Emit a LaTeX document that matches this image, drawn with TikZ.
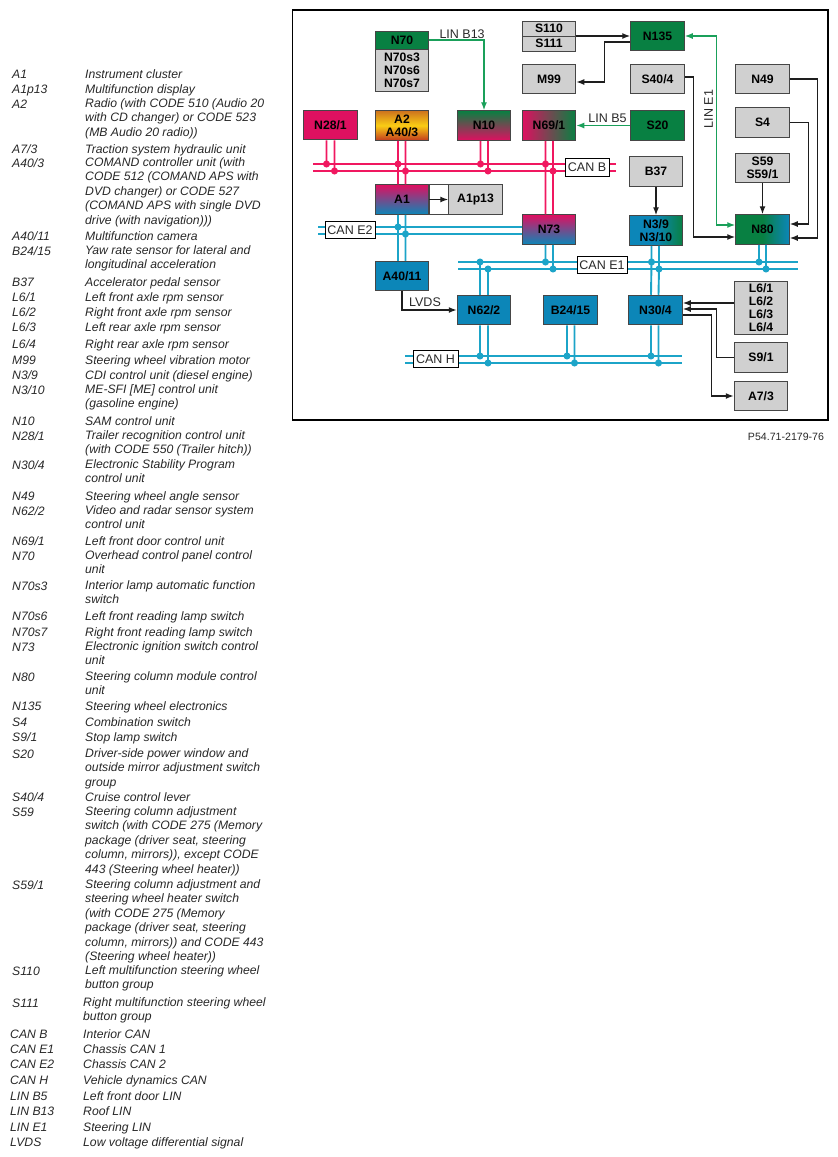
\documentclass[tikz,border=0pt]{standalone}
\usepackage{fontspec}
\setmainfont{Liberation Sans}
\usetikzlibrary{arrows.meta,calc}
\definecolor{LinGreen}{RGB}{26,160,90}
\definecolor{UnitGreen}{RGB}{8,128,66}
\definecolor{UnitBlue}{RGB}{12,134,184}
\definecolor{UnitPink}{RGB}{222,16,96}
\definecolor{CanPink}{RGB}{240,24,96}
\definecolor{CanBlue}{RGB}{28,164,200}
\definecolor{UnitGray}{RGB}{208,208,208}
\definecolor{EdgeGray}{RGB}{70,70,70}
\definecolor{WireBlack}{RGB}{30,30,30}
\definecolor{LabelGray}{RGB}{40,40,40}
\definecolor{AudioTop}{RGB}{205,115,30}
\definecolor{AudioMid}{RGB}{250,205,20}
\definecolor{AudioLow}{RGB}{195,60,30}
\tikzset{
  unit/.style={draw=EdgeGray,line width=1pt,minimum width=53.5pt,minimum height=29.5pt,inner sep=0pt,align=center,text=black,font=\bfseries\fontsize{12.2}{12.8}\selectfont},
  grayunit/.style={unit,fill=UnitGray},
  greenunit/.style={unit,fill=UnitGreen},
  blueunit/.style={unit,fill=UnitBlue},
  pinkunit/.style={unit,fill=UnitPink},
  busname/.style={draw=black,fill=white,line width=1pt,inner sep=0pt,minimum height=17.5pt,text=LabelGray,font=\fontsize{12.5}{14}\selectfont},
  linename/.style={inner sep=1pt,text=LabelGray,font=\fontsize{12.5}{14}\selectfont},
  wire/.style={WireBlack,line width=1.4pt},
  lin/.style={LinGreen,line width=1.4pt},
  pinkbus/.style={CanPink,line width=1.9pt},
  bluebus/.style={CanBlue,line width=1.9pt},
  legend/.style={anchor=north west,yshift=5.6pt,inner sep=0pt,align=left,text=LabelGray,execute at begin node=\strut,font=\itshape\fontsize{12.2}{14.4}\selectfont}
}
\begin{document}
\begin{tikzpicture}[x=1pt,y=-1pt,>={Latex[length=8pt,width=6pt]}]
\useasboundingbox (0,0) rectangle (838,1157);
\draw[black,line width=1.2pt] (292.5,10) rectangle (828,420);
\node[linename,font=\fontsize{10.6}{12}\selectfont] (figcode) at (786,437) {P54.71-2179-76};

\node[greenunit,minimum height=18pt] (N70) at (402,40) {N70};
\node[grayunit,minimum height=42pt] (N70s) at (402,70) {N70s3\\N70s6\\N70s7};
\node[grayunit,minimum height=15pt] (S110) at (549,28.5) {S110};
\node[grayunit,minimum height=15pt] (S111) at (549,43.5) {S111};
\node[grayunit] (M99) at (549,79) {M99};
\node[pinkunit] (N28) at (330.5,125) {N28/1};
\node[unit,top color=AudioTop,bottom color=AudioLow,middle color=AudioMid] (A2) at (402,125.5) {A2\\A40/3};
\node[unit,top color=UnitGreen,bottom color=UnitPink] (N10) at (484,125.5) {N10};
\node[unit,left color=UnitPink,right color=UnitGreen] (N69) at (549,125.5) {N69/1};
\node[unit,top color=UnitPink,bottom color=UnitBlue] (A1) at (402,199.5) {A1};
\node[draw=EdgeGray,line width=1pt,fill=white,minimum width=20pt,minimum height=29.5pt,inner sep=0pt] (A1gap) at (439,199.5) {};
\node[grayunit] (A1p13) at (475.5,199.5) {A1p13};
\node[unit,top color=UnitPink,bottom color=UnitBlue] (N73) at (549,229.5) {N73};
\node[blueunit] (A40) at (402,276) {A40/11};
\node[blueunit] (N62) at (484,310) {N62/2};
\node[blueunit] (B24) at (570.5,310) {B24/15};
\node[blueunit] (N30) at (655.5,310) {N30/4};
\node[greenunit] (N135) at (657.5,36) {N135};
\node[grayunit] (S40) at (657.5,79) {S40/4};
\node[grayunit] (N49) at (762.5,79) {N49};
\node[grayunit] (S4) at (762.5,122.5) {S4};
\node[greenunit] (S20) at (657.5,125.5) {S20};
\node[grayunit] (S59) at (762.5,168) {S59\\S59/1};
\node[grayunit] (B37) at (656,171.5) {B37};
\node[unit,left color=UnitBlue,right color=UnitGreen,middle color=UnitBlue] (N3) at (656,230.5) {N3/9\\N3/10};
\node[unit,left color=UnitGreen,right color=UnitBlue,middle color=UnitGreen] (N80) at (762.5,229.5) {N80};
\node[grayunit,minimum height=53pt] (L6) at (761,307.5) {L6/1\\L6/2\\L6/3\\L6/4};
\node[grayunit] (S9) at (761,357.5) {S9/1};
\node[grayunit] (A7) at (761,396) {A7/3};

\coordinate (busBaW) at (313,164);
\coordinate (busBaE) at (616,164);
\coordinate (busBbW) at (313,171);
\coordinate (busBbE) at (616,171);
\coordinate (busE2aW) at (318,227);
\coordinate (busE2bW) at (318,234);
\coordinate (busE1aW) at (458,262);
\coordinate (busE1aE) at (798,262);
\coordinate (busE1bW) at (458,269);
\coordinate (busE1bE) at (798,269);
\coordinate (busHaW) at (405,356);
\coordinate (busHaE) at (682,356);
\coordinate (busHbW) at (405,363);
\coordinate (busHbE) at (682,363);

\draw[pinkbus] (busBaW)--(busBaE);
\draw[pinkbus] (busBbW)--(busBbE);
\draw[bluebus] (busE2aW)--(busE2aW -| N73.west);
\draw[bluebus] (busE2bW)--(busE2bW -| N73.west);
\draw[bluebus] (busE1aW)--(busE1aE);
\draw[bluebus] (busE1bW)--(busE1bE);
\draw[bluebus] (busHaW)--(busHaE);
\draw[bluebus] (busHbW)--(busHbE);

\filldraw[pinkbus] ([xshift=-4pt]N28.south)--([xshift=-4pt]N28.south |- busBaW) circle[radius=2.5];
\filldraw[pinkbus] ([xshift=4pt]N28.south)--([xshift=4pt]N28.south |- busBbW) circle[radius=2.5];
\filldraw[pinkbus] ([xshift=-4pt]A2.south)--([xshift=-4pt]A2.south |- busBaW) circle[radius=2.5]--([xshift=-4pt]A1.north);
\filldraw[pinkbus] ([xshift=3.5pt]A2.south)--([xshift=3.5pt]A2.south |- busBbW) circle[radius=2.5]--([xshift=3.5pt]A1.north);
\filldraw[pinkbus] ([xshift=-3.5pt]N10.south)--([xshift=-3.5pt]N10.south |- busBaW) circle[radius=2.5];
\filldraw[pinkbus] ([xshift=4pt]N10.south)--([xshift=4pt]N10.south |- busBbW) circle[radius=2.5];
\filldraw[pinkbus] ([xshift=-3.5pt]N69.south)--([xshift=-3.5pt]N69.south |- busBaW) circle[radius=2.5]--([xshift=-3.5pt]N73.north);
\filldraw[pinkbus] ([xshift=4pt]N69.south)--([xshift=4pt]N69.south |- busBbW) circle[radius=2.5]--([xshift=4pt]N73.north);
\filldraw[bluebus] ([xshift=-4pt]A1.south)--([xshift=-4pt]A1.south |- busE2aW) circle[radius=2.5]--([xshift=-4pt]A40.north);
\filldraw[bluebus] ([xshift=3.5pt]A1.south)--([xshift=3.5pt]A1.south |- busE2bW) circle[radius=2.5]--([xshift=3.5pt]A40.north);
\filldraw[bluebus] ([xshift=-3.5pt]N73.south)--([xshift=-3.5pt]N73.south |- busE1aW) circle[radius=2.5];
\filldraw[bluebus] ([xshift=4pt]N73.south)--([xshift=4pt]N73.south |- busE1bW) circle[radius=2.5];
\filldraw[bluebus] ([xshift=-4pt]N62.north)--([xshift=-4pt]N62.north |- busE1aW) circle[radius=2.5];
\filldraw[bluebus] ([xshift=4pt]N62.north)--([xshift=4pt]N62.north |- busE1bW) circle[radius=2.5];
\filldraw[bluebus] ([xshift=-4pt]N62.south)--([xshift=-4pt]N62.south |- busHaW) circle[radius=2.5];
\filldraw[bluebus] ([xshift=4pt]N62.south)--([xshift=4pt]N62.south |- busHbW) circle[radius=2.5];
\filldraw[bluebus] ([xshift=-3.5pt]B24.south)--([xshift=-3.5pt]B24.south |- busHaW) circle[radius=2.5];
\filldraw[bluebus] ([xshift=4pt]B24.south)--([xshift=4pt]B24.south |- busHbW) circle[radius=2.5];
\filldraw[bluebus] ([xshift=-4.5pt]N3.south)--([xshift=-4.5pt]N3.south |- busE1aW) circle[radius=2.5]--([xshift=-4.5pt]N30.north);
\filldraw[bluebus] ([xshift=3pt]N3.south)--([xshift=3pt]N3.south |- busE1bW) circle[radius=2.5]--([xshift=3pt]N30.north);
\filldraw[bluebus] ([xshift=-4.5pt]N30.south)--([xshift=-4.5pt]N30.south |- busHaW) circle[radius=2.5];
\filldraw[bluebus] ([xshift=3pt]N30.south)--([xshift=3pt]N30.south |- busHbW) circle[radius=2.5];
\filldraw[bluebus] ([xshift=-3.5pt]N80.south)--([xshift=-3.5pt]N80.south |- busE1aW) circle[radius=2.5];
\filldraw[bluebus] ([xshift=3.5pt]N80.south)--([xshift=3.5pt]N80.south |- busE1bW) circle[radius=2.5];

\node[busname,minimum width=44pt] (canB) at (587,167.5) {CAN B};
\node[busname,minimum width=50pt] (canE1) at (602,265) {CAN E1};
\node[busname,minimum width=50pt] (canE2) at (350,230) {CAN E2};
\node[busname,minimum width=45pt] (canH) at (435.5,359) {CAN H};

\draw[lin,->] (N70.east) -| (N10.north) node[linename,pos=.3,above] (linB13) {LIN B13};
\draw[lin,->] (S20.west)--(N69.east) node[linename,pos=.42,above=1.5pt] (linB5) {LIN B5};
\draw[lin,<->] (N135.east)--++(32,0) |- ([yshift=4.5pt]N80.west);
\node[linename,rotate=90] (linE1) at (708.5,109) {LIN E1};
\draw[wire,->] (N135.west -| S110.east)--(N135.west);
\draw[wire,->] ([yshift=-6pt]N135.west)--++(-26,0) |- ([yshift=-3pt]M99.east);
\draw[wire,->] ([yshift=2pt]S40.east)--++(9,0) |- ([yshift=-7.5pt]N80.west);
\draw[wire,->] (N49.east)--++(28,0) |- ([yshift=-8.5pt]N80.east);
\draw[wire,->] (S4.east)--++(19,0) |- ([yshift=5.5pt]N80.east);
\draw[wire,->] (S59.south)--(N80.north);
\draw[wire,->] (B37.south)--(N3.north);
\draw[wire,->] (A1.east)--(A1p13.west);
\draw[wire,->] (A40.south) |- (N62.west) node[linename,pos=.71,above=1.5pt] (lvds) {LVDS};
\draw[wire,->] ([yshift=4.5pt]L6.west)--([yshift=7pt]N30.east);
\draw[wire,->] (S9.west)--++(-17,0) |- ([yshift=1pt]N30.east);
\draw[wire,->] ([yshift=-5pt]N30.east)--++(29,0) |- (A7.west);

\node[legend] (kA1) at (12,74) {A1};
\node[legend] (tA1) at (85,74) {Instrument cluster};
\node[legend] (kA1p) at (12,89) {A1p13};
\node[legend] (tA1p) at (85,89) {Multifunction display};
\node[legend] (kA2) at (12,104) {A2};
\node[legend] (tA2) at (85,104) {Radio (with CODE 510 (Audio 20\\with CD changer) or CODE 523\\(MB Audio 20 radio))};
\node[legend] (kA7) at (12,149) {A7/3};
\node[legend] (tA7) at (85,149) {Traction system hydraulic unit};
\node[legend] (kA403) at (12,163) {A40/3};
\node[legend] (tA403) at (85,163) {COMAND controller unit (with\\CODE 512 (COMAND APS with\\DVD changer) or CODE 527\\(COMAND APS with single DVD\\drive (with navigation)))};
\node[legend] (kA4011) at (12,236) {A40/11};
\node[legend] (tA4011) at (85,236) {Multifunction camera};
\node[legend] (kB24) at (12,251) {B24/15};
\node[legend] (tB24) at (85,251) {Yaw rate sensor for lateral and\\longitudinal acceleration};
\node[legend] (kB37) at (12,282) {B37};
\node[legend] (tB37) at (85,282) {Accelerator pedal sensor};
\node[legend] (kL61) at (12,297) {L6/1};
\node[legend] (tL61) at (85,297) {Left front axle rpm sensor};
\node[legend] (kL62) at (12,312) {L6/2};
\node[legend] (tL62) at (85,312) {Right front axle rpm sensor};
\node[legend] (kL63) at (12,327) {L6/3};
\node[legend] (tL63) at (85,327) {Left rear axle rpm sensor};
\node[legend] (kL64) at (12,344) {L6/4};
\node[legend] (tL64) at (85,344) {Right rear axle rpm sensor};
\node[legend] (kM99) at (12,360) {M99};
\node[legend] (tM99) at (85,360) {Steering wheel vibration motor};
\node[legend] (kN39) at (12,375) {N3/9};
\node[legend] (tN39) at (85,375) {CDI control unit (diesel engine)};
\node[legend] (kN310) at (12,390) {N3/10};
\node[legend] (tN310) at (85,390) {ME-SFI [ME] control unit\\(gasoline engine)};
\node[legend] (kN10) at (12,421) {N10};
\node[legend] (tN10) at (85,421) {SAM control unit};
\node[legend] (kN28) at (12,436) {N28/1};
\node[legend] (tN28) at (85,436) {Trailer recognition control unit\\(with CODE 550 (Trailer hitch))};
\node[legend] (kN30) at (12,465) {N30/4};
\node[legend] (tN30) at (85,465) {Electronic Stability Program\\control unit};
\node[legend] (kN49) at (12,496) {N49};
\node[legend] (tN49) at (85,496) {Steering wheel angle sensor};
\node[legend] (kN62) at (12,511) {N62/2};
\node[legend] (tN62) at (85,511) {Video and radar sensor system\\control unit};
\node[legend] (kN69) at (12,541) {N69/1};
\node[legend] (tN69) at (85,541) {Left front door control unit};
\node[legend] (kN70) at (12,556) {N70};
\node[legend] (tN70) at (85,556) {Overhead control panel control\\unit};
\node[legend] (kN703) at (12,586) {N70s3};
\node[legend] (tN703) at (85,586) {Interior lamp automatic function\\switch};
\node[legend] (kN706) at (12,616) {N70s6};
\node[legend] (tN706) at (85,616) {Left front reading lamp switch};
\node[legend] (kN707) at (12,632) {N70s7};
\node[legend] (tN707) at (85,632) {Right front reading lamp switch};
\node[legend] (kN73) at (12,647) {N73};
\node[legend] (tN73) at (85,647) {Electronic ignition switch control\\unit};
\node[legend] (kN80) at (12,677) {N80};
\node[legend] (tN80) at (85,677) {Steering column module control\\unit};
\node[legend] (kN135) at (12,706) {N135};
\node[legend] (tN135) at (85,706) {Steering wheel electronics};
\node[legend] (kS4) at (12,722) {S4};
\node[legend] (tS4) at (85,722) {Combination switch};
\node[legend] (kS9) at (12,737) {S9/1};
\node[legend] (tS9) at (85,737) {Stop lamp switch};
\node[legend] (kS20) at (12,754) {S20};
\node[legend] (tS20) at (85,754) {Driver-side power window and\\outside mirror adjustment switch\\group};
\node[legend] (kS40) at (12,797) {S40/4};
\node[legend] (tS40) at (85,797) {Cruise control lever};
\node[legend] (kS59) at (12,812) {S59};
\node[legend] (tS59) at (85,812) {Steering column adjustment\\switch (with CODE 275 (Memory\\package (driver seat, steering\\column, mirrors)), except CODE\\443 (Steering wheel heater))};
\node[legend] (kS591) at (12,885) {S59/1};
\node[legend] (tS591) at (85,885) {Steering column adjustment and\\steering wheel heater switch\\(with CODE 275 (Memory\\package (driver seat, steering\\column, mirrors)) and CODE 443\\(Steering wheel heater))};
\node[legend] (kS110) at (12,971) {S110};
\node[legend] (tS110) at (85,971) {Left multifunction steering wheel\\button group};
\node[legend] (kS111) at (12,1003) {S111};
\node[legend] (tS111) at (83,1003) {Right multifunction steering wheel\\button group};
\node[legend] (kcanB) at (10,1034) {CAN B};
\node[legend] (tcanB) at (83,1034) {Interior CAN};
\node[legend] (kcanE1) at (10,1049) {CAN E1};
\node[legend] (tcanE1) at (83,1049) {Chassis CAN 1};
\node[legend] (kcanE2) at (10,1064) {CAN E2};
\node[legend] (tcanE2) at (83,1064) {Chassis CAN 2};
\node[legend] (kcanH) at (10,1080) {CAN H};
\node[legend] (tcanH) at (83,1080) {Vehicle dynamics CAN};
\node[legend] (klinB5) at (10,1096) {LIN B5};
\node[legend] (tlinB5) at (83,1096) {Left front door LIN};
\node[legend] (klinB13) at (10,1111) {LIN B13};
\node[legend] (tlinB13) at (83,1111) {Roof LIN};
\node[legend] (klinE1) at (10,1127) {LIN E1};
\node[legend] (tlinE1) at (83,1127) {Steering LIN};
\node[legend] (klvds) at (10,1142) {LVDS};
\node[legend] (tlvds) at (83,1142) {Low voltage differential signal};
\end{tikzpicture}
\end{document}
